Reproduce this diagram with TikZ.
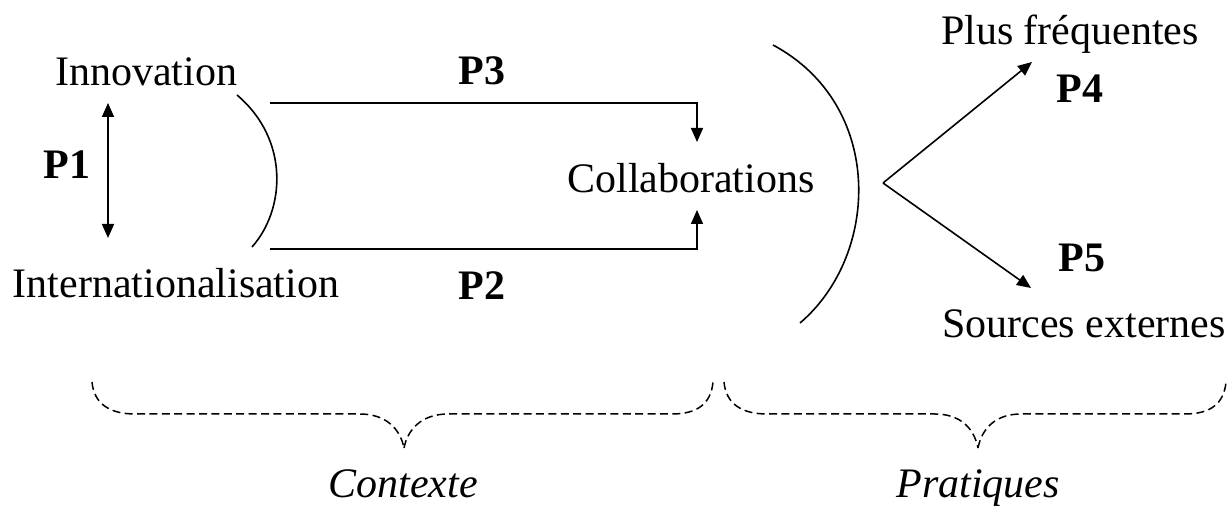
\documentclass[tikz,border=0pt]{standalone}
\usepackage{fontspec}
\setmainfont{Liberation Serif}
\usetikzlibrary{arrows.meta}
\begin{document}
\begin{tikzpicture}[x=0.5pt,y=-0.5pt,
  lbl/.style={inner sep=0pt,anchor=base,font=\fontsize{21}{25}\selectfont},
  plbl/.style={lbl,font=\fontsize{21}{25}\selectfont\bfseries},
  ilbl/.style={lbl,font=\fontsize{21}{25}\selectfont\itshape},
  link/.style={line width=0.8pt},
  tip/.style={-{Triangle[length=7pt,width=6pt]}},
  bothtips/.style={{Triangle[length=7pt,width=6pt]}-{Triangle[length=7pt,width=6pt]}},
  brace/.style={line width=0.75pt,dash pattern=on 4pt off 2.2pt}]
\useasboundingbox (0,0) rectangle (1228,506);

% labels (placed by their baselines)
\node[lbl] (innov) at (146,86) {Innovation};
\node[lbl] (intl) at (176,298) {Internationalisation};
\node[plbl] (p1) at (67,179) {P1};
\node[plbl] (p3) at (482,85) {P3};
\node[plbl] (p2) at (482,300) {P2};
\node[lbl] (collab) at (691,193) {Collaborations};
\node[lbl] (plus) at (1070,45) {Plus fréquentes};
\node[plbl] (p4) at (1080,103) {P4};
\node[plbl] (p5) at (1082,272) {P5};
\node[lbl] (src) at (1084,338) {Sources externes};
\node[ilbl] (ctx) at (403,498) {Contexte};
\node[ilbl] (prat) at (978,498) {Pratiques};

% anchor points
\coordinate (p1top) at (108,103);
\coordinate (p1bot) at (108,238);
\coordinate (topstart) at (270,103);
\coordinate (topbend) at (697,103);
\coordinate (toptip) at (697,142);
\coordinate (botstart) at (270,249);
\coordinate (botbend) at (697,249);
\coordinate (bottip) at (697,210);
\coordinate (fork) at (883,183);
\coordinate (uptip) at (1032,62);
\coordinate (downtip) at (1031,288);

% connectors
\draw[link,bothtips] (p1top) -- (p1bot);
\draw[link,tip] (topstart) -- (topbend) -- (toptip);
\draw[link,tip] (botstart) -- (botbend) -- (bottip);
\draw[link,tip] (fork) -- (uptip);
\draw[link,tip] (fork) -- (downtip);

% enclosing arcs
\draw[link] (237,95) .. controls (290,140) and (285,210) .. (252,247);
\draw[link] (773,45) .. controls (885,105) and (880,255) .. (800,323);

% dashed braces
\draw[brace] (92,382) .. controls (94,404) and (110,414) .. (135,414) -- (360,414)
  .. controls (385,414) and (400,428) .. (404,448);
\draw[brace] (404,448) .. controls (408,428) and (423,414) .. (448,414) -- (672,414)
  .. controls (697,414) and (711,404) .. (713,382);
\draw[brace] (724,382) .. controls (726,404) and (742,414) .. (767,414) -- (935,414)
  .. controls (960,414) and (974,428) .. (978,448);
\draw[brace] (978,448) .. controls (982,428) and (996,414) .. (1021,414) -- (1185,414)
  .. controls (1210,414) and (1224,404) .. (1226,382);
\end{tikzpicture}
\end{document}
